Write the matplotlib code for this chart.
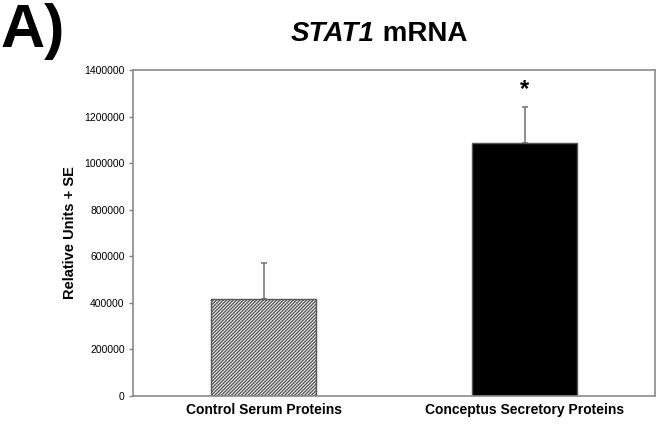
import matplotlib.pyplot as plt
import numpy as np

plt.rcParams["font.family"] = ["Liberation Sans", "DejaVu Sans"]
plt.rcParams["hatch.linewidth"] = 1.0
plt.rcParams["hatch.color"] = "#3a3a3a"

# Relative STAT1 mRNA levels per treatment
groups = ["Control Serum Proteins", "Conceptus Secretory Proteins"]
means = [418000, 1088000]
se = [152000, 152000]
yticks = [0, 200000, 400000, 600000, 800000, 1000000, 1200000, 1400000]

fig = plt.figure(figsize=(6.57, 4.24), dpi=100)
ax = fig.add_axes([133 / 657, 28 / 424, 522 / 657, 326 / 424])

x = np.arange(len(groups))
bars = ax.bar(x, means, width=0.4, color=["white", "black"],
              edgecolor=["#555555", "#555555"], linewidth=1.0, zorder=2)
bars[0].set_hatch("//////////")

ax.errorbar(x, means, yerr=[np.zeros(len(se)), se], fmt="none",
            ecolor="#7a7a7a", elinewidth=1.2, capsize=2, capthick=1.2, zorder=1)

# significance marker above the treated group
ax.text(x[1], means[1] + se[1] + 75000, "*", ha="center", va="center",
        fontsize=17, fontweight="bold")

ax.set_xlim(-0.5, 1.5)
ax.set_ylim(0, 1400000)
ax.set_yticks(yticks)
ax.set_yticklabels([str(v) for v in yticks], fontsize=7.5)
ax.set_xticks(x)
ax.set_xticklabels(groups, fontsize=10, fontweight="bold")
ax.tick_params(axis="x", length=0, pad=5)
ax.tick_params(axis="y", length=3, width=1, color="#808080", pad=3)
ax.set_ylabel("Relative Units + SE", fontsize=10.5, fontweight="bold", labelpad=5)

for s in ax.spines.values():
    s.set_color("#8a8a8a")
    s.set_linewidth(1.2)

# title with italic gene name
t1 = fig.text(0, 0, "STAT1", fontsize=20, fontweight="bold", fontstyle="italic",
              va="center", ha="left")
t2 = fig.text(0, 0, " mRNA", fontsize=20, fontweight="bold", va="center", ha="left")
fig.canvas.draw()
r = fig.canvas.get_renderer()
w1 = t1.get_window_extent(r).width
w2 = t2.get_window_extent(r).width
left = 379 - (w1 + w2) / 2
yc = 1 - 34 / 424
t1.set_position((left / 657, yc))
t2.set_position(((left + w1) / 657, yc))

fig.text(0, 1 - 31 / 424, "A)", fontsize=44, fontweight="bold",
         va="center", ha="left")

fig.savefig("out.png", dpi=100)
